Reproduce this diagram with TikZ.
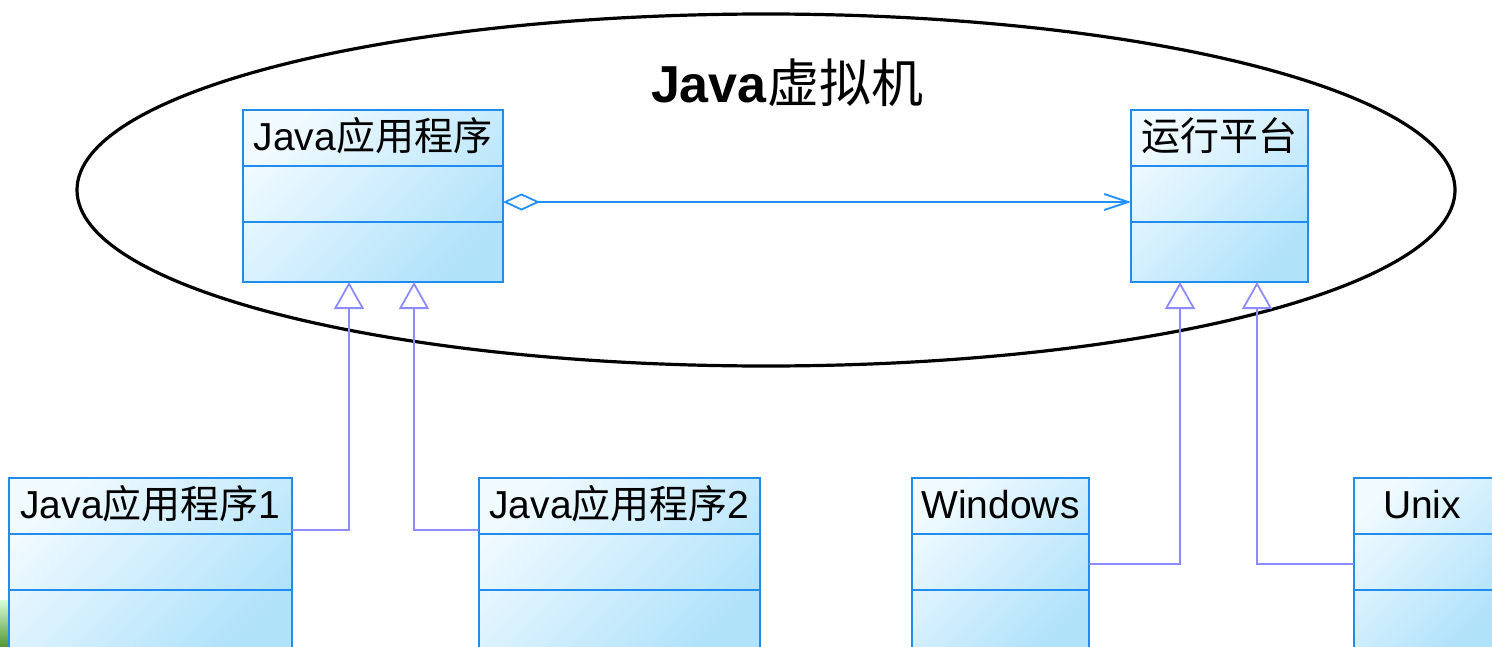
\documentclass[tikz,border=0pt]{standalone}
\usepackage{fontspec}
\setmainfont{Liberation Sans}
\newfontfamily\cjk{Noto Sans CJK SC}
\usetikzlibrary{arrows.meta}
\definecolor{boxblue}{RGB}{33,140,240}
\definecolor{aggblue}{RGB}{30,144,255}
\definecolor{genblue}{RGB}{140,140,255}
\definecolor{filltop}{RGB}{240,250,255}
\definecolor{fillbot}{RGB}{176,226,250}
\tikzset{
  umlbox/.style={rectangle, draw=boxblue, line width=1.1pt, inner sep=0pt, outer sep=0pt,
    anchor=north west, minimum height=86pt,
    top color=filltop, bottom color=fillbot, shading angle=45},
  divider/.style={draw=boxblue, line width=1.1pt},
  boxtext/.style={anchor=base, inner sep=0pt, font=\fontsize{19.5pt}{22pt}\selectfont},
  agg/.style={draw=aggblue, line width=0.8pt,
    {Diamond[open, length=18.5pt, width=8.5pt, line width=0.9pt]}-{Straight Barb[length=12pt, width=8pt, line width=0.9pt]}},
  gen/.style={draw=genblue, line width=0.9pt, -{Triangle[open, length=13.5pt, width=15pt, line width=0.9pt]}},
}
\begin{document}
\begin{tikzpicture}[x=0.5pt, y=-0.5pt]
\useasboundingbox (0,0) rectangle (1492,647);
\clip (0,0) rectangle (1492,647);
\fill[white] (0,0) rectangle (1492,647);
% background artifact
\shade[top color=green!15!white, bottom color={rgb,255:red,80;green,150;blue,50}] (0,600) rectangle (9,647);
% ellipse
\draw[line width=1.6pt] (766,190) ellipse [x radius=689, y radius=176];
\node[anchor=base, inner sep=0pt, font=\fontsize{26pt}{30pt}\selectfont] (title) at (787,103) {\textbf{Java}{\cjk 虚拟机}};
% boxes
\node[umlbox, minimum width=130pt] (a) at (243,110) {};
\node[umlbox, minimum width=88.5pt] (b) at (1131,110) {};
\node[umlbox, minimum width=141.5pt] (c) at (9,478) {};
\node[umlbox, minimum width=140.5pt] (d) at (479,478) {};
\node[umlbox, minimum width=88.5pt] (e) at (912,478) {};
\node[umlbox, minimum width=71pt] (f) at (1354,478) {};
\foreach \n in {a,b,c,d,e,f}{
  \draw[divider] ([yshift=-28pt]\n.north west) -- ([yshift=-28pt]\n.north east);
  \draw[divider] ([yshift=-56pt]\n.north west) -- ([yshift=-56pt]\n.north east);
}
\node[boxtext] (ta) at ([yshift=-20pt]a.north) {Java{\cjk 应用程序}};
\node[boxtext] (tb) at ([yshift=-20pt]b.north) {{\cjk 运行平台}};
\node[boxtext] (tc) at ([yshift=-20pt]c.north) {Java{\cjk 应用程序}1};
\node[boxtext] (td) at ([yshift=-20pt]d.north) {Java{\cjk 应用程序}2};
\node[boxtext] (te) at ([yshift=-20pt]e.north) {Windows};
\node[boxtext] (tf) at (1422,518) {Unix};
% aggregation
\draw[agg] ([yshift=-3pt]a.east) -- ([yshift=-3pt]b.west);
% generalizations
\draw[gen] ([yshift=17pt]c.east) -| ([xshift=-12pt]a.south);
\draw[gen] ([yshift=17pt]d.west) -| ([xshift=20.5pt]a.south);
\draw[gen] (e.east) -| ([xshift=-19.75pt]b.south);
\draw[gen] (f.west) -| ([xshift=18.75pt]b.south);
\end{tikzpicture}
\end{document}
